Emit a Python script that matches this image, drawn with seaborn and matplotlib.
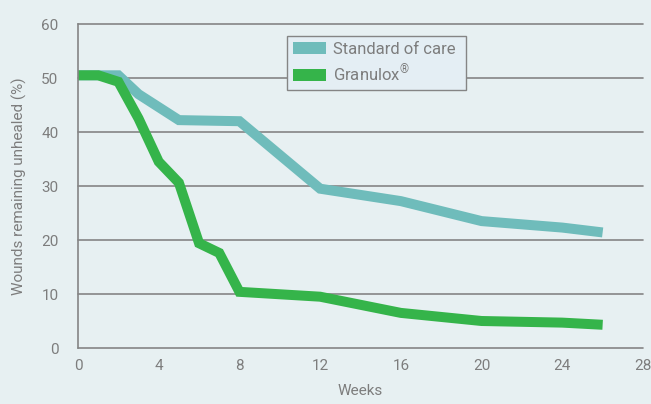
import matplotlib
matplotlib.use("Agg")
import matplotlib.pyplot as plt
import seaborn as sns
import pandas as pd
from matplotlib.patches import Patch

weeks_soc = [0, 2, 3, 5, 8, 12, 16, 20, 24, 26]
soc = [50.5, 50.5, 47.0, 42.2, 42.0, 29.5, 27.2, 23.5, 22.3, 21.4]
weeks_gran = [0, 1, 2, 3, 4, 5, 6, 7, 8, 12, 16, 20, 24, 26]
gran = [50.5, 50.5, 49.3, 42.5, 34.5, 30.6, 19.4, 17.6, 10.4, 9.5, 6.5, 5.0, 4.7, 4.3]
series_names = ["Standard of care", "Granulox$^{®}$"]
colors = ["#6fbcbb", "#35b44a"]
xticks = [0, 4, 8, 12, 16, 20, 24, 28]
yticks = [0, 10, 20, 30, 40, 50, 60]

df = pd.concat([
    pd.DataFrame({"Weeks": weeks_soc, "value": soc, "series": series_names[0]}),
    pd.DataFrame({"Weeks": weeks_gran, "value": gran, "series": series_names[1]}),
])

bg = "#e7f0f2"
grey = "#858585"
txt = "#7d7d7d"

sns.set_style("white")
plt.rcParams["font.family"] = ["Roboto", "DejaVu Sans"]
plt.rcParams["mathtext.fontset"] = "custom"
plt.rcParams["mathtext.rm"] = "Roboto"
plt.rcParams["mathtext.default"] = "regular"

fig = plt.figure(figsize=(6.51, 4.04), dpi=100, facecolor=bg)
ax = fig.add_axes([78/651, 1-348/404, (643-78)/651, (348-24)/404])
ax.set_facecolor(bg)

sns.lineplot(data=df, x="Weeks", y="value", hue="series", palette=colors,
             hue_order=series_names, linewidth=7.2, ax=ax, legend=False,
             sort=False, estimator=None)
for ln in ax.lines:
    ln.set_solid_joinstyle("miter")
    ln.set_solid_capstyle("butt")
    ln.set_clip_on(False)

ax.set_xlim(0, 28)
ax.set_ylim(0, 60)
ax.set_xticks(xticks)
ax.set_yticks(yticks)
for y in yticks:
    ax.axhline(y, color=grey, lw=1.2, zorder=0.5, clip_on=False)

for s in ["top", "right", "bottom"]:
    ax.spines[s].set_visible(False)
ax.spines["left"].set_color(grey)
ax.spines["left"].set_linewidth(1.2)
ax.tick_params(axis="y", length=8, width=1.2, color=grey, labelcolor=txt,
               labelsize=11, pad=6)
ax.tick_params(axis="x", length=0, labelcolor=txt, labelsize=11, pad=8)

ax.set_xlabel("Weeks", color=txt, fontsize=11, labelpad=8)
ax.set_ylabel("Wounds remaining unhealed (%)", color=txt, fontsize=11, labelpad=10)

handles = [Patch(facecolor=c, edgecolor="none") for c in colors]
x0 = (287-78)/565
y1 = (348-36)/324
w = (466-287)/565
h = 50/324
leg = ax.legend(handles, series_names, loc="upper left",
                bbox_to_anchor=(x0, y1 - h, w, h), mode="expand",
                frameon=True, fancybox=False, fontsize=12,
                handlelength=2.0, handleheight=0.72, handletextpad=0.4,
                borderpad=0.35, labelspacing=0.35, borderaxespad=0)
leg.get_frame().set_edgecolor(grey)
leg.get_frame().set_linewidth(1.0)
leg.get_frame().set_facecolor("#e4eef4")
leg.get_frame().set_alpha(1)
for t in leg.get_texts():
    t.set_color(txt)

fig.savefig("out.png", dpi=100, facecolor=bg)
